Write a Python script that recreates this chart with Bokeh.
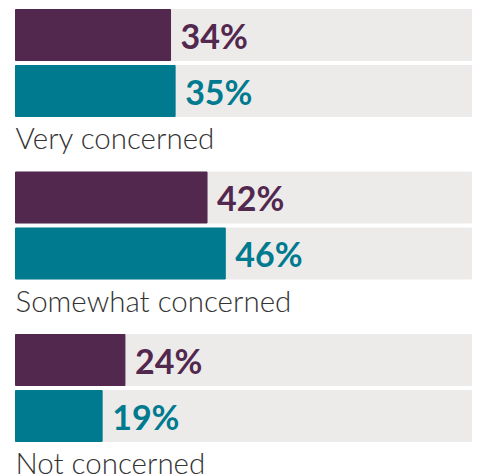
from bokeh.plotting import figure
from bokeh.models import Range1d, ColumnDataSource
from bokeh.core.properties import value
from bokeh.embed import file_html
from bokeh.resources import INLINE

categories = ["Very concerned", "Somewhat concerned", "Not concerned"]
series_a = [34, 42, 24]   # purple
series_b = [35, 46, 19]   # teal
labels_a = ["34%", "42%", "24%"]
labels_b = ["35%", "46%", "19%"]

PURPLE = "#52284e"
TEAL = "#007a8f"
BG = "#edebea"

W, H = 477, 474
left_px, full_px = 15, 456
x0 = -left_px / full_px * 100
x1 = (W - left_px) / full_px * 100

p = figure(width=W, height=H, x_range=Range1d(x0, x1), y_range=Range1d(H, 0),
           output_backend="svg", toolbar_location=None, min_border=0,
           outline_line_color=None, background_fill_color="white")
p.axis.visible = False
p.grid.visible = False

group_step = 162.5
bar_h = 51
first_top = 9
bar_gap = 56

ya, yb, ylab = [], [], []
for i in range(len(categories)):
    top = first_top + i * group_step
    ya.append(top + bar_h / 2)
    yb.append(top + bar_gap + bar_h / 2)
    ylab.append(top + bar_gap + bar_h + 21)

src = ColumnDataSource(dict(cat=categories, a=series_a, b=series_b,
                            la=labels_a, lb=labels_b, ya=ya, yb=yb, ylab=ylab,
                            full=[100] * 3, zero=[0] * 3,
                            ta=[v + 2.2 for v in series_a], tb=[v + 2.2 for v in series_b]))

p.hbar(y="ya", left="zero", right="full", height=bar_h, color=BG, source=src)
p.hbar(y="yb", left="zero", right="full", height=bar_h, color=BG, source=src)
p.hbar(y="ya", left="zero", right="a", height=bar_h, color=PURPLE, source=src)
p.hbar(y="yb", left="zero", right="b", height=bar_h, color=TEAL, source=src)

p.text(x="ta", y="ya", text="la", text_color=PURPLE, text_font=value("Lato"),
       text_font_style="bold", text_font_size="34px", text_baseline="middle",
       source=src)
p.text(x="tb", y="yb", text="lb", text_color=TEAL, text_font=value("Lato"),
       text_font_style="bold", text_font_size="34px", text_baseline="middle",
       source=src)
p.text(x="zero", y="ylab", text="cat", text_color="#333333",
       text_font=value("Lato Light"), text_font_size="29.5px",
       text_baseline="alphabetic", source=src)

open("out.html", "w").write(file_html(p, INLINE))
